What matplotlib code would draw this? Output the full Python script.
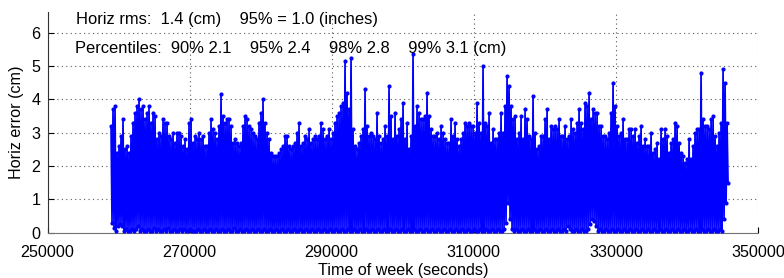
# -*- coding: utf-8 -*-
"""
Horizontal error time series (MATLAB style figure)
"""

import numpy as np
import matplotlib
matplotlib.use('Agg')
from matplotlib import pyplot as plt

plt.rcParams['font.family'] = ['Liberation Sans', 'DejaVu Sans']

### Data (upper envelope / lower floor, every ~281 s)
t_start = 258937.0
t_step = 281.5

peak_cm = [
    # 259000 - 270500
    3.2, 3.7, 3.8, 2.4, 2.6, 2.9, 3.4, 2.5, 2.6, 2.4,
    2.9, 3.3, 3.6, 3.8, 4.0, 3.7, 3.8, 3.4, 3.6, 3.8,
    3.3, 3.6, 3.5, 2.8, 3.0, 2.9, 3.4, 3.3, 3.3, 2.9,
    2.8, 3.0, 2.7, 3.0, 3.0, 2.9, 2.6, 2.8, 2.5, 3.3,
    3.4, 2.7,
    # 270800 - 283200
    2.9, 2.8, 3.0, 2.8, 2.9, 2.6, 2.6, 3.0, 3.4, 3.1,
    3.0, 2.8, 3.2, 4.15, 3.5, 3.3, 3.4, 3.4, 3.2, 2.7,
    2.8, 2.7, 2.6, 2.7, 3.2, 3.5, 3.4, 3.2, 3.1, 3.0,
    2.9, 2.8, 3.3, 3.6, 4.0, 3.3, 3.0, 2.8, 2.4, 2.3,
    2.3, 2.3, 2.4, 2.5, 2.6,
    # 283500 - 295900
    2.9, 2.9, 2.6, 2.5, 2.6, 2.7, 3.0, 3.3, 2.6, 2.7,
    2.9, 2.8, 3.1, 2.7, 2.8, 2.9, 2.8, 2.9, 3.3, 3.1,
    2.8, 2.9, 3.1, 2.8, 3.0, 3.3, 3.5, 3.6, 3.8, 3.9,
    5.15, 4.2, 3.7, 5.25, 3.1, 2.6, 2.5, 2.7, 2.9, 3.1,
    4.3, 3.2, 2.9, 3.0, 2.9,
    # 296200 - 308600
    2.8, 3.6, 2.9, 2.7, 2.8, 3.2, 2.9, 4.4, 3.5, 2.8,
    3.6, 2.9, 3.1, 3.4, 3.9, 2.8, 3.3, 2.5, 2.9, 5.35,
    3.2, 3.8, 3.6, 3.4, 3.4, 3.5, 4.2, 3.5, 3.1, 2.9,
    2.9, 3.0, 2.8, 3.2, 3.0, 2.8, 2.7, 2.7, 3.4, 2.9,
    3.3, 2.8, 2.6, 2.8, 3.0,
    # 308900 - 321300
    3.3, 3.2, 3.3, 3.2, 3.2, 3.0, 3.9, 3.3, 3.0, 5.0,
    3.3, 3.2, 3.6, 2.7, 3.1, 2.8, 2.8, 3.0, 3.6, 3.0,
    3.8, 4.7, 4.4, 3.8, 3.4, 3.5, 2.8, 3.0, 3.5, 2.8,
    3.7, 3.4, 2.9, 2.8, 4.1, 3.0, 2.5, 2.6, 2.9, 2.9,
    3.4, 3.7, 2.8, 3.2, 3.1,
    # 321600 - 334000
    3.2, 3.1, 3.4, 2.9, 2.9, 3.2, 2.8, 2.9, 3.4, 3.1,
    3.0, 3.3, 3.7, 3.3, 3.1, 3.9, 3.8, 4.2, 3.4, 3.7,
    3.6, 3.6, 3.2, 3.2, 2.9, 2.9, 2.8, 3.0, 3.6, 4.5,
    3.8, 3.2, 2.9, 3.0, 3.4, 2.8, 2.8, 3.1, 3.1, 2.9,
    3.1, 2.7, 2.9, 3.2, 2.6,
    # 334300 - 345600
    2.8, 2.6, 2.6, 3.0, 2.4, 2.5, 2.7, 2.2, 3.1, 2.8,
    3.1, 2.9, 2.4, 2.7, 2.8, 3.3, 3.2, 2.7, 2.4, 2.3,
    2.1, 2.2, 2.8, 2.2, 2.6, 3.0, 3.1, 3.1, 4.8, 3.4,
    3.2, 3.2, 3.1, 3.4, 3.5, 2.9, 2.6, 3.0, 3.3, 4.9,
    4.5, 3.3,
]

floor_cm = [
    0.3, 0.15, 0.05, 0.2, 0.25, 0.2, 0.05, 0.1, 0.05, 0.05,
    0.1, 0.05, 0.1, 0.2, 0.05, 0.1, 0.05, 0.05, 0.1, 0.05,
    0.05, 0.15, 0.05, 0.1, 0.05, 0.05, 0.1, 0.05, 0.15, 0.05,
    0.05, 0.1, 0.05, 0.05, 0.1, 0.05, 0.1, 0.05, 0.05, 0.1,
    0.05, 0.05,
    0.05, 0.1, 0.05, 0.05, 0.1, 0.05, 0.05, 0.1, 0.05, 0.05,
    0.1, 0.05, 0.05, 0.1, 0.05, 0.05, 0.1, 0.05, 0.05, 0.15,
    0.05, 0.05, 0.1, 0.05, 0.05, 0.1, 0.05, 0.05, 0.1, 0.05,
    0.05, 0.1, 0.05, 0.05, 0.1, 0.05, 0.05, 0.1, 0.05, 0.05,
    0.1, 0.05, 0.05, 0.1, 0.05,
    0.05, 0.1, 0.05, 0.05, 0.1, 0.05, 0.05, 0.1, 0.05, 0.05,
    0.1, 0.05, 0.05, 0.1, 0.05, 0.05, 0.1, 0.05, 0.05, 0.1,
    0.05, 0.05, 0.1, 0.05, 0.05, 0.1, 0.05, 0.05, 0.1, 0.05,
    0.05, 0.1, 0.05, 0.05, 0.1, 0.05, 0.05, 0.1, 0.05, 0.05,
    0.1, 0.05, 0.05, 0.1, 0.05,
    0.05, 0.1, 0.05, 0.05, 0.1, 0.05, 0.05, 0.1, 0.05, 0.05,
    0.1, 0.05, 0.05, 0.1, 0.05, 0.05, 0.1, 0.05, 0.05, 0.1,
    0.05, 0.05, 0.1, 0.05, 0.05, 0.1, 0.05, 0.05, 0.1, 0.05,
    0.05, 0.1, 0.05, 0.05, 0.1, 0.05, 0.05, 0.1, 0.05, 0.05,
    0.1, 0.05, 0.05, 0.1, 0.05,
    0.05, 0.1, 0.05, 0.05, 0.1, 0.05, 0.05, 0.1, 0.05, 0.05,
    0.1, 0.05, 0.05, 0.1, 0.05, 0.05, 0.1, 0.05, 0.05, 0.1,
    0.3, 0.9, 0.4, 0.1, 0.05, 0.1, 0.05, 0.05, 0.1, 0.05,
    0.05, 0.1, 0.05, 0.05, 0.1, 0.05, 0.05, 0.1, 0.05, 0.05,
    0.1, 0.05, 0.05, 0.1, 0.05,
    0.05, 0.1, 0.05, 0.05, 0.1, 0.05, 0.2, 0.1, 0.05, 0.05,
    0.1, 0.05, 0.05, 0.1, 0.05, 0.05, 0.1, 0.25, 0.4, 0.35,
    0.2, 0.05, 0.1, 0.05, 0.05, 0.1, 0.05, 0.05, 0.1, 0.05,
    0.05, 0.1, 0.05, 0.05, 0.1, 0.05, 0.05, 0.1, 0.05, 0.05,
    0.1, 0.05, 0.05, 0.1, 0.05,
    0.05, 0.1, 0.05, 0.05, 0.1, 0.05, 0.05, 0.1, 0.05, 0.05,
    0.1, 0.05, 0.05, 0.1, 0.05, 0.05, 0.1, 0.05, 0.05, 0.1,
    0.05, 0.05, 0.1, 0.05, 0.05, 0.1, 0.05, 0.05, 0.1, 0.05,
    0.05, 0.1, 0.05, 0.05, 0.1, 0.05, 0.05, 0.1, 0.05, 0.4,
    0.9, 1.5,
]

rms_text = 'Horiz rms:  1.4 (cm)    95% = 1.0 (inches)'
pct_text = 'Percentiles:  90% 2.1    95% 2.4    98% 2.8    99% 3.1 (cm)'
x_ticks = [250000, 270000, 290000, 310000, 330000, 350000]
y_ticks = [0, 1, 2, 3, 4, 5, 6]

### Build the series: each sample goes up to its envelope then down to its floor
n = len(peak_cm)
t = t_start + t_step * np.arange(n)
tt = np.empty(2 * n)
yy = np.empty(2 * n)
tt[0::2] = t
tt[1::2] = t + t_step / 2
yy[0::2] = peak_cm
yy[1::2] = floor_cm

### Make Figure
fig = plt.figure(figsize=(7.84, 2.78), dpi=100)
ax = fig.add_axes([0.0606, 0.163, 0.9063, 0.794])
ax.plot(tt, yy, color=(0, 0, 1), lw=1.25, marker='.', ms=4, zorder=3)

ax.set_xlim(250000, 350000)
ax.set_ylim(0, 6.62)
ax.set_xticks(x_ticks)
ax.set_yticks(y_ticks)
ax.ticklabel_format(axis='x', style='plain', useOffset=False)
ax.grid(True, linestyle=(0, (1, 3)), color='0.35', lw=0.8)
ax.spines['top'].set_visible(False)
ax.spines['right'].set_visible(False)
ax.spines['left'].set_color('0.2')
ax.spines['bottom'].set_color('0.45')
ax.tick_params(axis='both', direction='in', length=4, labelsize=11.6, colors='black')
ax.tick_params(axis='x', pad=9)
ax.tick_params(axis='y', pad=5)
ax.set_xlabel('Time of week (seconds)', fontsize=11.6, labelpad=2)
ax.set_ylabel('Horiz error (cm)', fontsize=11.6, labelpad=5)

ax.text(253990, 6.38, rms_text, fontsize=11.9, va='center', ha='left')
ax.text(253900, 5.51, pct_text, fontsize=11.9, va='center', ha='left')

fig.savefig('out.png', dpi=100)
